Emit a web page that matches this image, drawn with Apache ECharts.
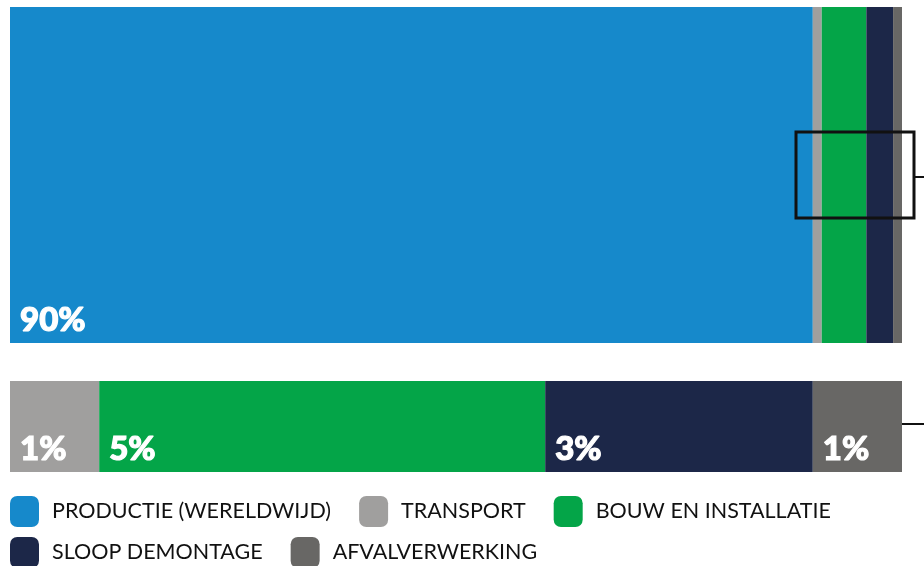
<!DOCTYPE html>
<html>
<head>
<meta charset="utf-8">
<script src="https://cdn.jsdelivr.net/npm/echarts@6/dist/echarts.min.js"></script>
<style>
  html, body { margin: 0; padding: 0; background: #fff; }
  #chart { width: 924px; height: 566px; }
</style>
</head>
<body>
<div id="chart"></div>
<script>
// aandeel per levensfase (%)
const phases = ['PRODUCTIE (WERELDWIJD)', 'TRANSPORT', 'BOUW EN INSTALLATIE', 'SLOOP DEMONTAGE', 'AFVALVERWERKING']
const totalValues = [90, 1, 5, 3, 1]
// uitvergroting zonder productie
const detailValues = [1, 5, 3, 1]
const colors = ['#1689cb', '#a09f9e', '#04a548', '#1c2748', '#686765']

const chart = echarts.init(document.getElementById('chart'))

const labelStyle = {
  show: true,
  position: 'insideBottomLeft',
  distance: 10,
  offset: [0, 4],
  color: '#fff',
  textBorderColor: '#fff',
  textBorderWidth: 1.2,
  fontFamily: 'Lato',
  fontWeight: 900,
  fontSize: 33,
  formatter: '{c}%'
}

const series = []
phases.forEach((name, i) => {
  series.push({
    name,
    type: 'bar',
    stack: 'top',
    xAxisIndex: 0,
    yAxisIndex: 0,
    barWidth: '100%',
    itemStyle: { color: colors[i] },
    label: Object.assign({}, labelStyle, { show: i === 0 }),
    data: [totalValues[i]]
  })
})
phases.slice(1).forEach((name, i) => {
  series.push({
    name,
    type: 'bar',
    stack: 'detail',
    xAxisIndex: 1,
    yAxisIndex: 1,
    barWidth: '100%',
    itemStyle: { color: colors[i + 1] },
    label: labelStyle,
    data: [detailValues[i]]
  })
})

const legendText = { fontFamily: 'Lato', fontSize: 21.5, color: '#111', padding: [0, 0, 0, 8] }

chart.setOption({
  animation: false,
  grid: [
    { left: 10, right: 22, top: 7, height: 336 },
    { left: 10, right: 22, top: 381, height: 91 }
  ],
  xAxis: [
    { type: 'value', gridIndex: 0, min: 0, max: 100, show: false },
    { type: 'value', gridIndex: 1, min: 0, max: 10, show: false }
  ],
  yAxis: [
    { type: 'category', gridIndex: 0, data: [''], show: false },
    { type: 'category', gridIndex: 1, data: [''], show: false }
  ],
  legend: [
    {
      data: phases.slice(0, 3),
      left: 10, top: 496, padding: 0,
      icon: 'roundRect', itemWidth: 29, itemHeight: 31, itemGap: 28,
      textStyle: legendText
    },
    {
      data: phases.slice(3),
      left: 10, top: 537, padding: 0,
      icon: 'roundRect', itemWidth: 29, itemHeight: 31, itemGap: 28,
      textStyle: legendText
    }
  ],
  graphic: [
    { type: 'rect', z: 100, shape: { x: 796, y: 132, width: 118, height: 86 }, style: { fill: 'none', stroke: '#111', lineWidth: 3 } },
    { type: 'line', z: 100, shape: { x1: 915, y1: 177, x2: 924, y2: 177 }, style: { stroke: '#111', lineWidth: 2 } },
    { type: 'line', z: 100, shape: { x1: 902, y1: 424, x2: 924, y2: 424 }, style: { stroke: '#111', lineWidth: 2 } }
  ],
  series
})
</script>
</body>
</html>
